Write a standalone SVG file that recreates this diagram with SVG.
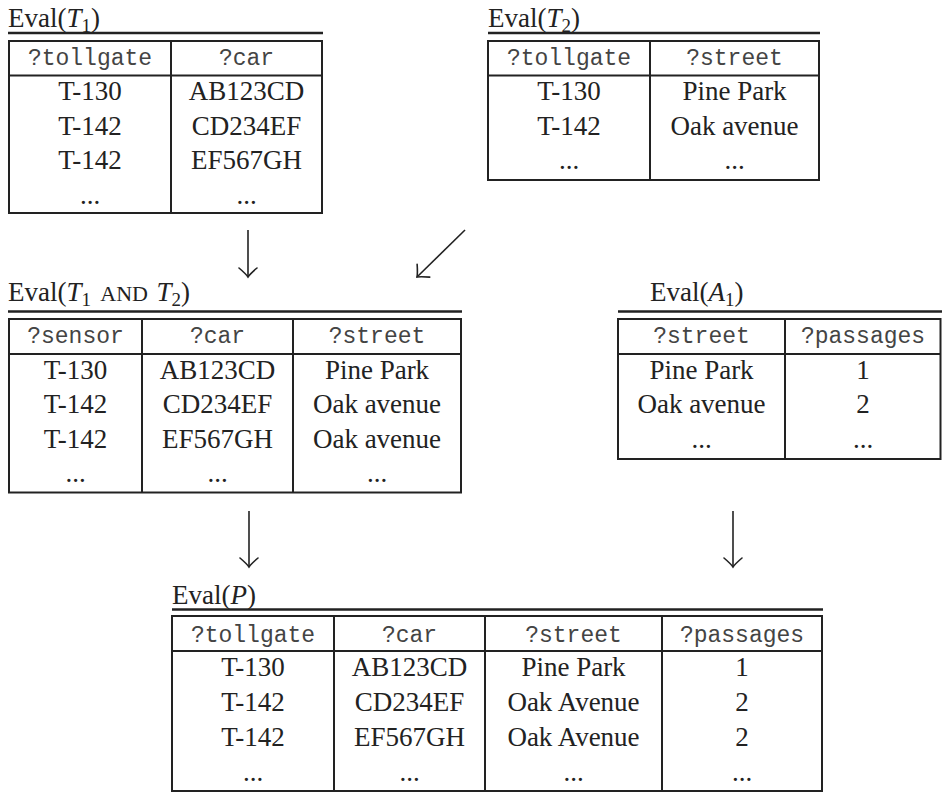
<svg xmlns="http://www.w3.org/2000/svg" width="942" height="793" viewBox="0 0 942 793">
<style>
.ttl{font-family:"Liberation Serif","DejaVu Serif",serif;font-size:27px;fill:#222}
.it{font-style:italic}
.sub{font-size:19px}
.sc{font-size:22px}
.h{font-family:"Liberation Mono","DejaVu Sans Mono",monospace;font-size:23px;fill:#444;text-anchor:middle}
.d{font-family:"Liberation Serif","DejaVu Serif",serif;font-size:27px;fill:#222;text-anchor:middle}
.rule{stroke:#222;stroke-width:2.4;fill:none}
.box{stroke:#222;stroke-width:2;fill:none}
.ln{stroke:#222;stroke-width:2;fill:none}
.arr{stroke:#222;stroke-width:1.6;fill:none;marker-end:url(#head)}
</style>
<defs>
<marker id="head" markerUnits="userSpaceOnUse" viewBox="-12 -12 14 24" markerWidth="14" markerHeight="24" refX="0" refY="0" orient="auto" overflow="visible">
<path d="M-9,-9 Q-3,-2 0,0 Q-3,2 -9,9" stroke="#222" stroke-width="1.6" fill="none" stroke-linecap="round"/>
</marker>
</defs>

<g id="t1">
<text class="ttl" x="8" y="27">Eval(<tspan class="it">T</tspan><tspan class="sub" dy="5">1</tspan><tspan dy="-5">)</tspan></text>
<line class="rule" x1="8" y1="33" x2="323" y2="33"/>
<rect class="box" x="9" y="41" width="313" height="172"/>
<line class="ln" x1="9" y1="75.5" x2="322" y2="75.5"/>
<line class="ln" x1="171" y1="41" x2="171" y2="213"/>
<text class="h" x="90" y="65">?tollgate</text>
<text class="h" x="246.5" y="65">?car</text>
<text class="d" x="90" y="100">T-130</text>
<text class="d" x="246.5" y="100">AB123CD</text>
<text class="d" x="90" y="134.5">T-142</text>
<text class="d" x="246.5" y="134.5">CD234EF</text>
<text class="d" x="90" y="169">T-142</text>
<text class="d" x="246.5" y="169">EF567GH</text>
<text class="d" x="90" y="204">...</text>
<text class="d" x="246.5" y="204">...</text>
</g>

<g id="t2">
<text class="ttl" x="488" y="27">Eval(<tspan class="it">T</tspan><tspan class="sub" dy="5">2</tspan><tspan dy="-5">)</tspan></text>
<line class="rule" x1="488" y1="33" x2="820" y2="33"/>
<rect class="box" x="488" y="41" width="331" height="139"/>
<line class="ln" x1="488" y1="75.5" x2="819" y2="75.5"/>
<line class="ln" x1="650" y1="41" x2="650" y2="180"/>
<text class="h" x="569" y="65">?tollgate</text>
<text class="h" x="734.5" y="65">?street</text>
<text class="d" x="569" y="100">T-130</text>
<text class="d" x="734.5" y="100">Pine Park</text>
<text class="d" x="569" y="134.5">T-142</text>
<text class="d" x="734.5" y="134.5">Oak avenue</text>
<text class="d" x="569" y="169">...</text>
<text class="d" x="734.5" y="169">...</text>
</g>

<g id="t1andt2">
<text class="ttl" x="8" y="301">Eval(<tspan class="it">T</tspan><tspan class="sub" dy="5">1</tspan><tspan class="sc" dy="-5" dx="5"> AND </tspan><tspan class="it" dx="3">T</tspan><tspan class="sub" dy="5">2</tspan><tspan dy="-5">)</tspan></text>
<line class="rule" x1="8" y1="311.5" x2="462" y2="311.5"/>
<rect class="box" x="9" y="319" width="452" height="173.5"/>
<line class="ln" x1="9" y1="354" x2="461" y2="354"/>
<line class="ln" x1="142" y1="319" x2="142" y2="492.5"/>
<line class="ln" x1="293" y1="319" x2="293" y2="492.5"/>
<text class="h" x="75.5" y="343">?sensor</text>
<text class="h" x="217.5" y="343">?car</text>
<text class="h" x="377" y="343">?street</text>
<text class="d" x="75.5" y="378.5">T-130</text>
<text class="d" x="217.5" y="378.5">AB123CD</text>
<text class="d" x="377" y="378.5">Pine Park</text>
<text class="d" x="75.5" y="413">T-142</text>
<text class="d" x="217.5" y="413">CD234EF</text>
<text class="d" x="377" y="413">Oak avenue</text>
<text class="d" x="75.5" y="447.5">T-142</text>
<text class="d" x="217.5" y="447.5">EF567GH</text>
<text class="d" x="377" y="447.5">Oak avenue</text>
<text class="d" x="75.5" y="482">...</text>
<text class="d" x="217.5" y="482">...</text>
<text class="d" x="377" y="482">...</text>
</g>

<g id="a1">
<text class="ttl" x="650" y="301">Eval(<tspan class="it">A</tspan><tspan class="sub" dy="5">1</tspan><tspan dy="-5">)</tspan></text>
<line class="rule" x1="618" y1="311.5" x2="942" y2="311.5"/>
<rect class="box" x="618" y="319" width="322.5" height="140"/>
<line class="ln" x1="618" y1="354" x2="940.5" y2="354"/>
<line class="ln" x1="785" y1="319" x2="785" y2="459"/>
<text class="h" x="701.5" y="343">?street</text>
<text class="h" x="863" y="343">?passages</text>
<text class="d" x="701.5" y="378.5">Pine Park</text>
<text class="d" x="863" y="378.5">1</text>
<text class="d" x="701.5" y="413">Oak avenue</text>
<text class="d" x="863" y="413">2</text>
<text class="d" x="701.5" y="447.5">...</text>
<text class="d" x="863" y="447.5">...</text>
</g>

<g id="p">
<text class="ttl" x="172" y="604">Eval(<tspan class="it">P</tspan>)</text>
<line class="rule" x1="172" y1="609.5" x2="823" y2="609.5"/>
<rect class="box" x="172" y="616" width="650" height="175"/>
<line class="ln" x1="172" y1="651" x2="822" y2="651"/>
<line class="ln" x1="334" y1="616" x2="334" y2="791"/>
<line class="ln" x1="485" y1="616" x2="485" y2="791"/>
<line class="ln" x1="662" y1="616" x2="662" y2="791"/>
<text class="h" x="253" y="642">?tollgate</text>
<text class="h" x="409.5" y="642">?car</text>
<text class="h" x="573.5" y="642">?street</text>
<text class="h" x="742" y="642">?passages</text>
<text class="d" x="253" y="676">T-130</text>
<text class="d" x="409.5" y="676">AB123CD</text>
<text class="d" x="573.5" y="676">Pine Park</text>
<text class="d" x="742" y="676">1</text>
<text class="d" x="253" y="711">T-142</text>
<text class="d" x="409.5" y="711">CD234EF</text>
<text class="d" x="573.5" y="711">Oak Avenue</text>
<text class="d" x="742" y="711">2</text>
<text class="d" x="253" y="746">T-142</text>
<text class="d" x="409.5" y="746">EF567GH</text>
<text class="d" x="573.5" y="746">Oak Avenue</text>
<text class="d" x="742" y="746">2</text>
<text class="d" x="253" y="780.5">...</text>
<text class="d" x="409.5" y="780.5">...</text>
<text class="d" x="573.5" y="780.5">...</text>
<text class="d" x="742" y="780.5">...</text>
</g>

<g id="connectors">
<line class="arr" x1="248" y1="230" x2="248" y2="277"/>
<line class="arr" x1="465" y1="230" x2="417" y2="277"/>
<line class="arr" x1="249" y1="511" x2="249" y2="567"/>
<line class="arr" x1="733" y1="511" x2="733" y2="567"/>
</g>
</svg>
